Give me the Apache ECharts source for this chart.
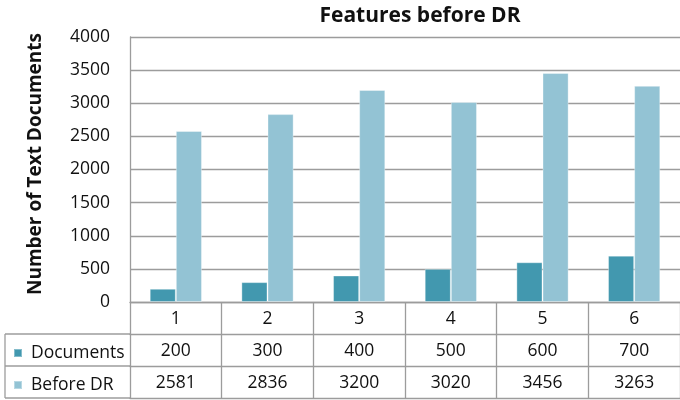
<!DOCTYPE html>
<html>
<head>
<meta charset="utf-8">
<script src="https://cdn.jsdelivr.net/npm/echarts@6/dist/echarts.min.js"></script>
<style>
  html, body { margin: 0; padding: 0; background: #fff; }
  #chart { width: 680px; height: 400px; }
</style>
</head>
<body>
<div id="chart"></div>
<script>
// Chart data
const categories = ['1', '2', '3', '4', '5', '6'];
const documents = [200, 300, 400, 500, 600, 700];
const beforeDR = [2581, 2836, 3200, 3020, 3456, 3263];
const yTicks = { min: 0, max: 4000, step: 500 };

const FONT = '"Open Sans", sans-serif';
const LINE = '#9c9c9c';
const C_DOC = '#4298AF';
const C_BDR = '#93C3D4';
const FS = 17.5;

const chart = echarts.init(document.getElementById('chart'), null, { renderer: 'canvas' });

// A table row under the plot is a category axis whose labels show one series
function tableAxis(offset, values, withTicks) {
  return {
    type: 'category',
    data: categories,
    position: 'bottom',
    offset: offset,
    axisLine: { show: true, lineStyle: { color: LINE, width: 1.3 } },
    axisTick: { show: withTicks, length: 32, lineStyle: { color: LINE, width: 1.3 } },
    axisLabel: {
      show: !!values,
      margin: 8,
      fontFamily: FONT,
      fontSize: FS,
      color: '#111',
      formatter: values ? (v, i) => String(values[i]) : undefined
    },
    splitLine: { show: false }
  };
}

// One legend block per table row, sitting in the row's first cell
function rowLegend(name, top) {
  return {
    orient: 'vertical',
    left: 8,
    top: top,
    icon: 'rect',
    itemWidth: 8,
    itemHeight: 8,
    textStyle: { fontFamily: FONT, fontSize: FS, color: '#111', padding: [0, 0, 0, 4] },
    selectedMode: false,
    data: [name]
  };
}

const option = {
  animation: false,
  backgroundColor: '#fff',
  title: {
    text: 'Features before DR',
    left: 415,
    top: 1,
    textAlign: 'center',
    textStyle: { fontFamily: FONT, fontSize: 21, fontWeight: 'bold', color: '#111' }
  },
  legend: [rowLegend('Documents', 339), rowLegend('Before DR', 371)],
  grid: { left: 130, right: -7, top: 37, bottom: 98, containLabel: false },
  xAxis: [
    {
      type: 'category',
      data: categories,
      position: 'bottom',
      axisLine: { show: true, lineStyle: { color: LINE, width: 1.3 } },
      axisTick: { show: true, length: 32, lineStyle: { color: LINE, width: 1.3 } },
      axisLabel: { margin: 8, fontFamily: FONT, fontSize: FS, color: '#111' },
      splitLine: { show: false }
    },
    tableAxis(32, documents, true),
    tableAxis(64, beforeDR, true),
    tableAxis(96, null, false)
  ],
  yAxis: {
    type: 'value',
    min: yTicks.min,
    max: yTicks.max,
    interval: yTicks.step,
    name: 'Number of Text Documents',
    nameLocation: 'middle',
    nameRotate: 90,
    nameGap: 85,
    nameTextStyle: { fontFamily: FONT, fontSize: 19, fontWeight: 'bold', color: '#111', padding: [0, 0, 0, 11] },
    axisLine: { show: true, lineStyle: { color: LINE, width: 1.3 } },
    axisTick: { show: false },
    axisLabel: { margin: 20, fontFamily: FONT, fontSize: FS, color: '#111', formatter: v => String(v) },
    splitLine: { show: true, lineStyle: { color: LINE, width: 1.3 } }
  },
  series: [
    {
      name: 'Documents',
      type: 'bar',
      data: documents,
      barWidth: '28.5%',
      barGap: '0%',
      itemStyle: { color: C_DOC, borderColor: 'rgba(255,255,255,0.35)', borderWidth: 1 }
    },
    {
      name: 'Before DR',
      type: 'bar',
      data: beforeDR,
      barWidth: '28.5%',
      barGap: '0%',
      itemStyle: { color: C_BDR, borderColor: 'rgba(255,255,255,0.35)', borderWidth: 1 }
    }
  ],
  // Frame of the legend column to the left of the table rows
  graphic: [
    { type: 'line', shape: { x1: 5, y1: 334, x2: 130, y2: 334 }, style: { stroke: LINE, lineWidth: 1.3 } },
    { type: 'line', shape: { x1: 5, y1: 366, x2: 130, y2: 366 }, style: { stroke: LINE, lineWidth: 1.3 } },
    { type: 'line', shape: { x1: 5, y1: 398, x2: 130, y2: 398 }, style: { stroke: LINE, lineWidth: 1.3 } },
    { type: 'line', shape: { x1: 5, y1: 334, x2: 5, y2: 398 }, style: { stroke: LINE, lineWidth: 1.3 } }
  ]
};

chart.setOption(option);
</script>
</body>
</html>
